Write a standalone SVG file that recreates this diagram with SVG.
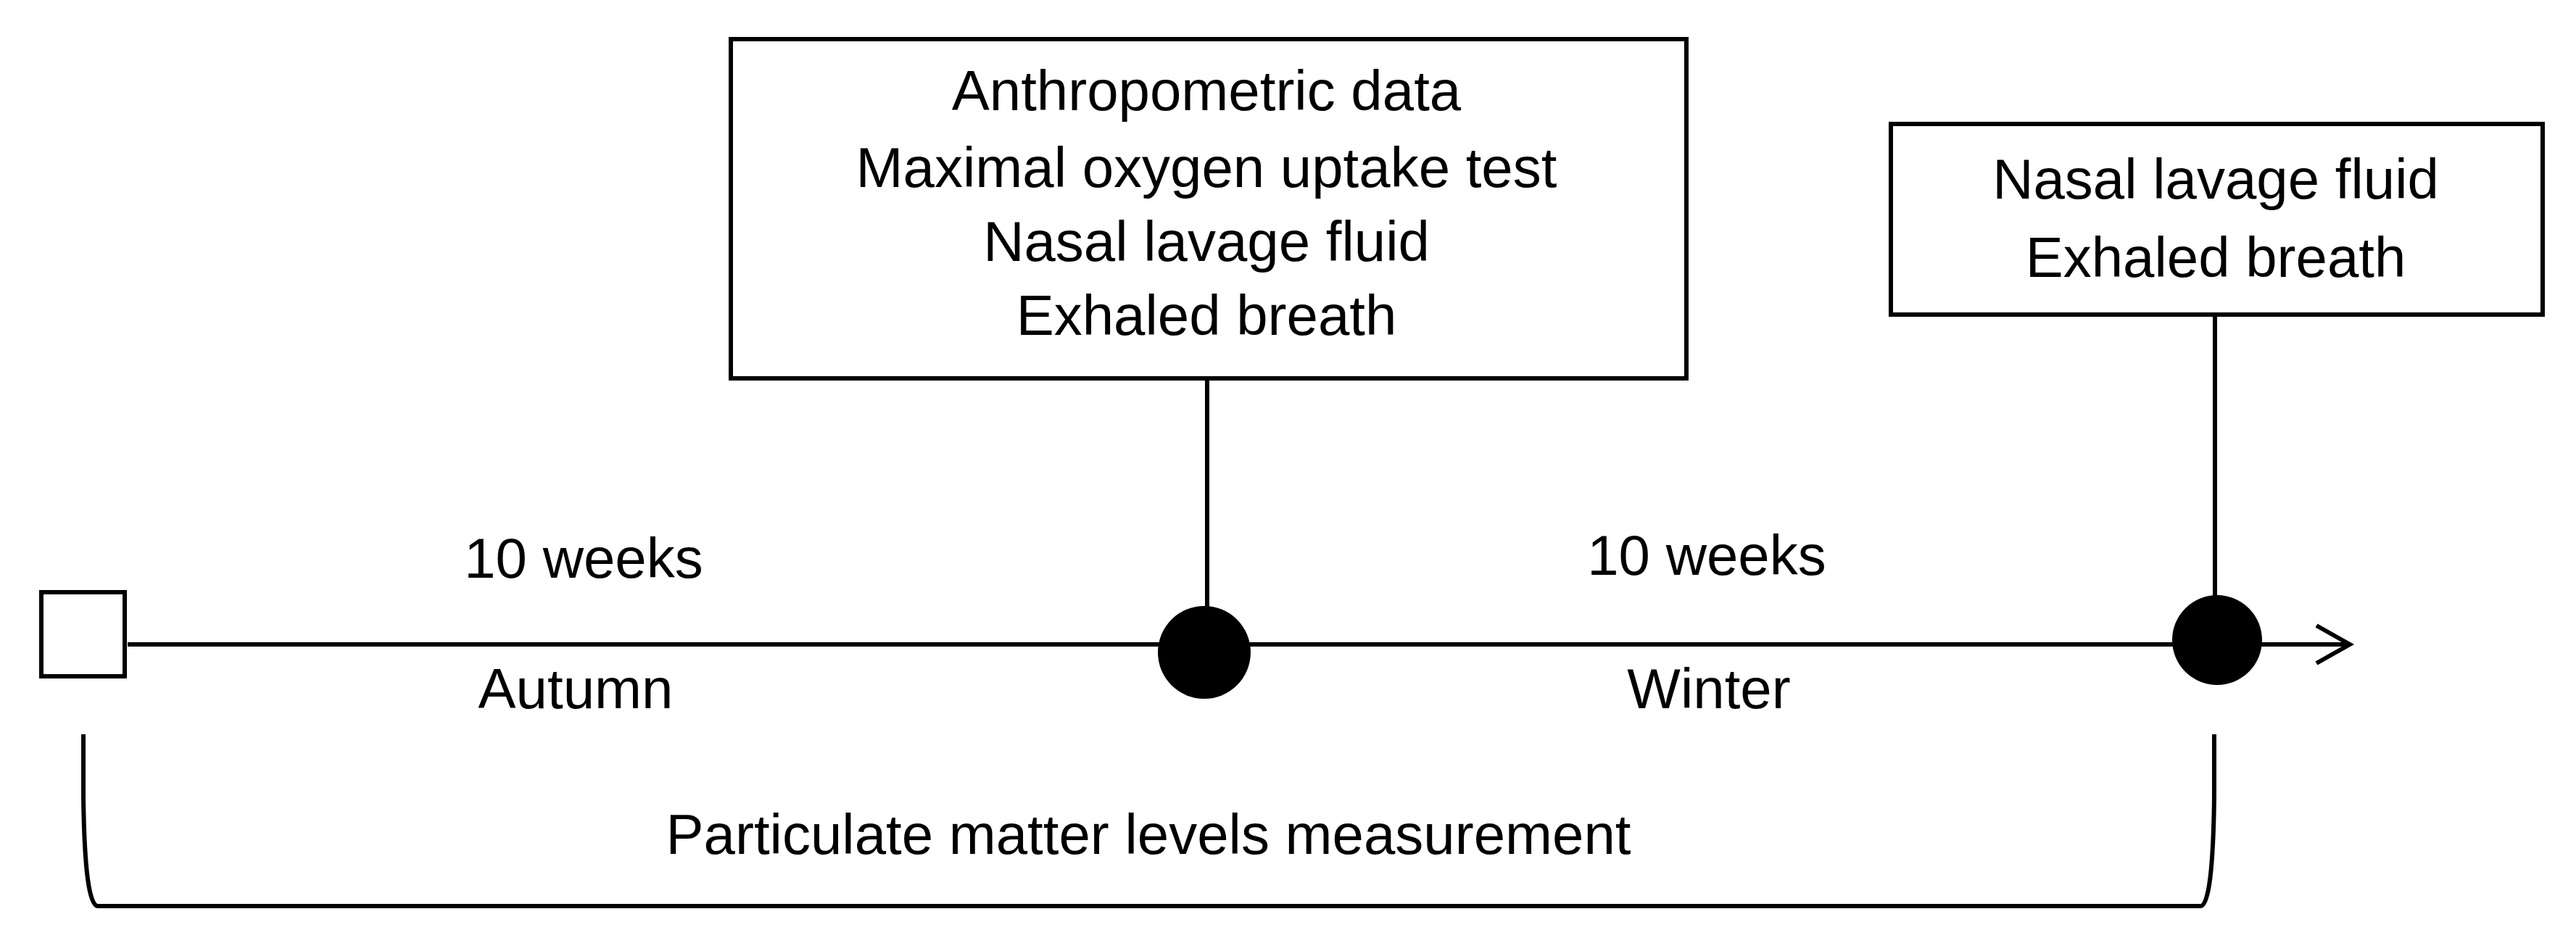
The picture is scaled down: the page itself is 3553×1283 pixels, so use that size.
<svg xmlns="http://www.w3.org/2000/svg" width="3553" height="1283" viewBox="0 0 3553 1283">
<style>
.ln{fill:none;stroke:#000;stroke-width:6}
.box{fill:#fff;stroke:#000;stroke-width:6}
.dot{fill:#000}
text{font-family:"Liberation Sans",Arial,sans-serif;font-size:78px;fill:#000;text-anchor:middle}
</style>
<rect width="3553" height="1283" fill="#fff"/>
<g id="connectors">
<line class="ln" x1="176" y1="889" x2="3241" y2="889"/>
<polyline class="ln" points="3195,863 3241,889 3195,915"/>
<line class="ln" x1="1665" y1="525" x2="1665" y2="850"/>
<line class="ln" x1="3055" y1="437" x2="3055" y2="840"/>
<path class="ln" d="M115,1013 L115,1100 Q117,1250 135,1250 L3035,1250 Q3052,1250 3054,1100 L3054,1013"/>
</g>
<g id="start">
<rect class="box" x="57" y="817" width="115" height="116" stroke-width="8"/>
</g>
<g id="mid-point">
<circle class="dot" cx="1661" cy="900" r="64"/>
</g>
<g id="end-point">
<circle class="dot" cx="3058" cy="883" r="62"/>
</g>
<g id="box-baseline">
<rect class="box" x="1008" y="54" width="1318" height="468"/>
<text x="1664" y="152">Anthropometric data</text>
<text x="1664" y="258">Maximal oxygen uptake test</text>
<text x="1664" y="360">Nasal lavage fluid</text>
<text x="1664" y="462">Exhaled breath</text>
</g>
<g id="box-final">
<rect class="box" x="2608" y="171" width="899" height="263"/>
<text x="3056" y="274">Nasal lavage fluid</text>
<text x="3056" y="382">Exhaled breath</text>
</g>
<g id="labels">
<text x="805" y="797">10 weeks</text>
<text x="794" y="977">Autumn</text>
<text x="2354" y="793">10 weeks</text>
<text x="2357" y="977">Winter</text>
<text x="1584" y="1178">Particulate matter levels measurement</text>
</g>
</svg>
